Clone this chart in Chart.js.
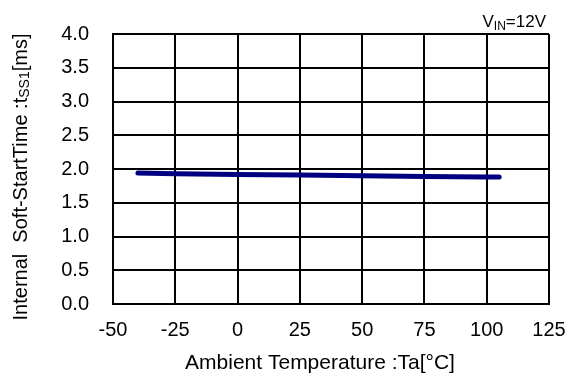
<!DOCTYPE html>
<html>
<head>
<meta charset="utf-8">
<script src="https://cdn.jsdelivr.net/npm/chart.js@4/dist/chart.umd.min.js"></script>
<style>
html,body{margin:0;padding:0;background:#fff;}
#wrap{width:573px;height:374px;}
</style>
</head>
<body>
<div id="wrap"><canvas id="c" width="573" height="374"></canvas></div>
<script>
const temperatures = [-40, -25, 0, 25, 50, 75, 100, 105];
const softStartTime = [1.94, 1.93, 1.92, 1.91, 1.90, 1.89, 1.88, 1.88];
const xTickValues = [-50, -25, 0, 25, 50, 75, 100, 125];
const yTickValues = [0.0, 0.5, 1.0, 1.5, 2.0, 2.5, 3.0, 3.5, 4.0];

const FONT = "'Liberation Sans', Arial, sans-serif";

function drawSegments(ctx, segs, cx, cy) {
  let total = 0;
  segs.forEach(s => { ctx.font = s.size + "px " + FONT; s.w = ctx.measureText(s.t).width; total += s.w; });
  let x = cx - total / 2;
  segs.forEach(s => {
    ctx.font = s.size + "px " + FONT;
    ctx.fillText(s.t, x, cy + (s.dy || 0));
    x += s.w;
  });
}

const titlesPlugin = {
  id: 'titles',
  afterDraw(chart) {
    const ctx = chart.ctx;
    ctx.save();
    ctx.fillStyle = '#000';
    ctx.textBaseline = 'middle';
    ctx.textAlign = 'left';
    // x title
    drawSegments(ctx, [{t: 'Ambient Temperature :Ta[°C]', size: 21}], 320, 363);
    // y title
    ctx.save();
    ctx.translate(21, 177);
    ctx.rotate(-Math.PI / 2);
    drawSegments(ctx, [
      {t: 'Internal  Soft-StartTime :t', size: 20},
      {t: 'SS1', size: 14, dy: 4},
      {t: '[ms]', size: 20}
    ], 0, 0);
    ctx.restore();
    // condition label
    ctx.textBaseline = 'alphabetic';
    let segs = [{t: 'V', size: 17}, {t: 'IN', size: 12, dy: 3}, {t: '=12V', size: 17}];
    let total = 0;
    segs.forEach(s => { ctx.font = s.size + 'px ' + FONT; s.w = ctx.measureText(s.t).width; total += s.w; });
    let x = 546 - total;
    segs.forEach(s => { ctx.font = s.size + 'px ' + FONT; ctx.fillText(s.t, x, 27 + (s.dy || 0)); x += s.w; });
    ctx.restore();
  }
};

new Chart(document.getElementById('c'), {
  type: 'line',
  data: {
    datasets: [{
      data: temperatures.map((t, i) => ({x: t, y: softStartTime[i]})),
      borderColor: '#000080',
      borderWidth: 5,
      borderCapStyle: 'round',
      borderJoinStyle: 'round',
      pointRadius: 0,
      tension: 0,
      fill: false
    }]
  },
  options: {
    responsive: false,
    animation: false,
    layout: {padding: {left: 0, top: 34, right: 24, bottom: 0}},
    plugins: {legend: {display: false}, tooltip: {enabled: false}},
    scales: {
      x: {
        type: 'linear',
        min: -50, max: 125,
        afterBuildTicks: s => { s.ticks = xTickValues.map(v => ({value: v})); },
        afterFit: s => { s.height = 70; s.paddingLeft = 0; s.paddingRight = 0; },
        grid: {color: '#000', lineWidth: 2, drawTicks: false},
        border: {display: true, color: '#000', width: 2},
        ticks: {color: '#000', font: {family: FONT, size: 20}, padding: 14, maxRotation: 0, autoSkip: false}
      },
      y: {
        type: 'linear',
        min: 0, max: 4,
        afterBuildTicks: s => { s.ticks = yTickValues.map(v => ({value: v})); },
        afterFit: s => { s.width = 113; s.paddingTop = 0; s.paddingBottom = 0; },
        grid: {color: '#000', lineWidth: 2, drawTicks: false},
        border: {display: true, color: '#000', width: 2},
        ticks: {color: '#000', font: {family: FONT, size: 20}, padding: 24,
          callback: v => Number(v).toFixed(1)}
      }
    }
  },
  plugins: [titlesPlugin]
});
</script>
</body>
</html>
